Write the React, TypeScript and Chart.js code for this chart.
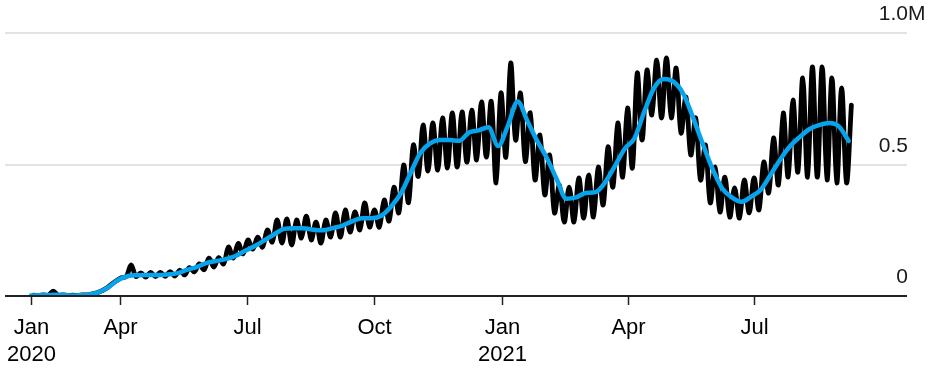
import React, { useEffect, useRef } from 'react';
import { Chart, registerables } from 'chart.js';

Chart.register(...registerables);

// Weekly series, first week starts 2020-01-28, values in thousands
const FIRST_WEEK = '2020-01-28';

// 7-day average (blue), one value per week
const sevenDayAvg = [
  2, 3, 4, 5, 2, 3, 6, 15, 35, 62,
  76, 79, 80, 80, 82, 86, 99, 110, 125, 133,
  140, 152, 172, 190, 212, 235, 255, 258, 258, 252,
  250, 258, 268, 284, 296, 296, 305, 340, 390, 468,
  544, 580, 593, 593, 590, 622, 630, 642, 570, 648,
  740, 665, 590, 525, 445, 370, 375, 392, 395, 433,
  495, 560, 600, 700, 790, 825, 815, 770, 680, 580,
  485, 410, 375, 358, 378, 405, 462, 520, 570, 605,
  635, 650, 658, 645, 590,
];

// Daily cases (black): mid-week value and weekend value of each week
const dailyMidweek = [
  3, 4, 18, 4, 3, 4, 8, 20, 45, 70,
  118, 88, 90, 90, 93, 98, 108, 122, 144, 146,
  186, 200, 213, 224, 251, 289, 293, 289, 304, 281,
  289, 316, 327, 320, 354, 327, 365, 414, 498, 574,
  650, 658, 677, 696, 700, 707, 738, 740, 772, 886,
  772, 696, 612, 536, 422, 414, 449, 460, 490, 567,
  658, 715, 848, 859, 897, 905, 867, 757, 677, 574,
  490, 452, 411, 441, 449, 509, 601, 696, 745, 829,
  871, 871, 829, 791, 726,
];
const dailyWeekend = [
  2, 3, 3, 2, 2, 4, 12, 30, 58, 74,
  74, 72, 74, 75, 76, 80, 92, 100, 110, 122,
  144, 160, 178, 186, 205, 201, 194, 220, 213, 201,
  224, 224, 243, 251, 262, 262, 285, 316, 355, 455,
  475, 479, 487, 490, 509, 517, 528, 430, 528, 593,
  512, 441, 384, 316, 281, 281, 296, 300, 346, 414,
  452, 487, 593, 688, 677, 677, 620, 536, 441, 354,
  319, 300, 296, 316, 327, 392, 422, 452, 471, 452,
  452, 441, 430, 430,
];

const xTickDates = ['2020-01-28', '2020-04-01', '2020-07-01', '2020-10-01', '2021-01-01', '2021-04-01', '2021-07-01'];
const xTickLabels = [['Jan', '2020'], ['Apr'], ['Jul'], ['Oct'], ['Jan', '2021'], ['Apr'], ['Jul']];
const yTickValues = [0, 500, 1000];
const yTickLabels = ['0', '0.5', '1.0'];
const yUnit = 'M';

const dayOf = (s: string) => {
  const [y, m, d] = s.split('-').map(Number);
  return (Date.UTC(y, m - 1, d) - Date.UTC(2020, 0, 1)) / 86400000;
};

const FONT = '"Liberation Sans", Arial, Helvetica, sans-serif';

export default function App() {
  const ref = useRef<HTMLCanvasElement | null>(null);
  useEffect(() => {
    if (!ref.current) return;
    const start = dayOf(FIRST_WEEK);
    const avgData = sevenDayAvg.map((v, k) => ({ x: start + 7 * k, y: v }));
    const dailyData: { x: number; y: number }[] = [];
    dailyMidweek.forEach((v, k) => {
      dailyData.push({ x: start + 7 * k + 2, y: v });
      if (k < dailyWeekend.length) dailyData.push({ x: start + 7 * k + 5.5, y: dailyWeekend[k] });
    });

    const axisPlugin = {
      id: 'customAxes',
      beforeDatasetsDraw(chart: any) {
        const { ctx, chartArea, scales } = chart;
        const y = scales.y;
        ctx.save();
        ctx.strokeStyle = '#dadada';
        ctx.lineWidth = 1.5;
        yTickValues.forEach((v) => {
          if (v === 0) return;
          const py = Math.round(y.getPixelForValue(v));
          ctx.beginPath();
          ctx.moveTo(chartArea.left, py);
          ctx.lineTo(chartArea.right, py);
          ctx.stroke();
        });
        ctx.restore();
      },
      afterDatasetsDraw(chart: any) {
        const { ctx, chartArea, scales } = chart;
        const x = scales.x;
        const y = scales.y;
        const y0 = Math.round(y.getPixelForValue(0));
        ctx.save();
        ctx.strokeStyle = '#222';
        ctx.lineWidth = 2;
        ctx.beginPath();
        ctx.moveTo(chartArea.left, y0);
        ctx.lineTo(chartArea.right, y0);
        ctx.stroke();
        ctx.lineWidth = 1.5;
        ctx.fillStyle = '#000';
        ctx.font = `22px ${FONT}`;
        ctx.textAlign = 'center';
        ctx.textBaseline = 'alphabetic';
        xTickDates.forEach((d, i) => {
          const px = Math.round(x.getPixelForValue(dayOf(d))) + 0.5;
          ctx.beginPath();
          ctx.moveTo(px, y0);
          ctx.lineTo(px, y0 + 9);
          ctx.stroke();
          xTickLabels[i].forEach((line, j) => {
            ctx.fillText(line, px, y0 + 38 + j * 27);
          });
        });
        ctx.font = `21px ${FONT}`;
        ctx.fillStyle = '#1a1a1a';
        yTickValues.forEach((v, i) => {
          const py = y.getPixelForValue(v);
          const rx = chartArea.right + 1;
          ctx.textAlign = 'right';
          ctx.fillText(yTickLabels[i], rx, py - 13);
          if (i === yTickValues.length - 1) {
            ctx.textAlign = 'left';
            ctx.fillText(yUnit, rx, py - 13);
          }
        });
        ctx.restore();
      },
    };

    const chart = new Chart(ref.current, {
      type: 'line',
      data: {
        datasets: [
          {
            label: '7-day average',
            data: avgData,
            borderColor: '#06a4ec',
            borderWidth: 4.5,
            pointRadius: 0,
            cubicInterpolationMode: 'monotone',
            borderCapStyle: 'round',
            borderJoinStyle: 'round',
            order: 0,
          },
          {
            label: 'Daily',
            data: dailyData,
            borderColor: '#000000',
            borderWidth: 4.8,
            pointRadius: 0,
            tension: 0.35,
            borderCapStyle: 'round',
            borderJoinStyle: 'round',
            order: 1,
          },
        ],
      },
      options: {
        responsive: false,
        animation: false,
        devicePixelRatio: 1,
        events: [],
        layout: { padding: { left: 5, right: 22, top: 33, bottom: 74 } },
        scales: {
          x: { type: 'linear', min: 8.3, max: 657, display: false },
          y: { min: 0, max: 1000, display: false },
        },
        plugins: { legend: { display: false }, tooltip: { enabled: false } },
      },
      plugins: [axisPlugin],
    } as any);
    return () => chart.destroy();
  }, []);

  return (
    <div style={{ position: 'fixed', left: 0, top: 0, width: 929, height: 370, background: '#fff' }}>
      <canvas ref={ref} width={929} height={370} style={{ width: 929, height: 370, display: 'block' }} />
    </div>
  );
}
